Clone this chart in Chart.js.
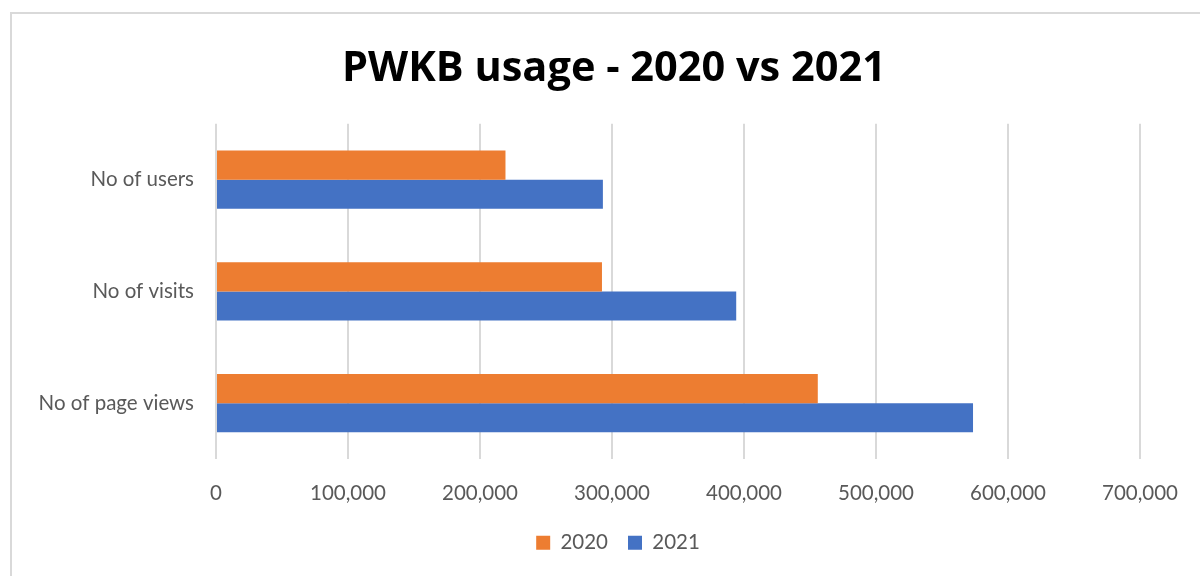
<!DOCTYPE html>
<html>
<head>
<meta charset="utf-8">
<script src="https://cdn.jsdelivr.net/npm/chart.js@4"></script>
<style>
  html, body { margin: 0; padding: 0; background: #fff; overflow: hidden; }
  #wrap { position: relative; width: 1200px; height: 576px; }
  #frame { position: absolute; left: 10px; top: 12px; width: 1220px; height: 600px;
           border: 2px solid #d9d9d9; pointer-events: none; }
</style>
</head>
<body>
<div id="wrap">
  <canvas id="chart" width="1200" height="576"></canvas>
  <div id="frame"></div>
</div>
<script>
// data
const categories = ['No of users', 'No of visits', 'No of page views'];
const usage2020 = [219300, 292400, 455900];
const usage2021 = [293100, 394100, 573500];

const labelFont = { family: 'Lato, "Open Sans", sans-serif', size: 20.5 };

// the original frame is centred a bit right of the canvas, nudge title + legend
const shiftBlocks = {
    id: 'shiftBlocks',
    afterLayout(chart) {
        chart.titleBlock.left += 11;
        chart.titleBlock.right += 11;
        chart.legend.left += 15;
        chart.legend.right += 15;
    }
};

const ctx = document.getElementById('chart').getContext('2d');
new Chart(ctx, {
    type: 'bar',
    data: {
        labels: categories,
        datasets: [
            { label: '2020', data: usage2020, backgroundColor: '#ED7D31', borderWidth: 0 },
            { label: '2021', data: usage2021, backgroundColor: '#4472C4', borderWidth: 0 }
        ]
    },
    options: {
        indexAxis: 'y',
        responsive: false,
        animation: false,
        categoryPercentage: 0.52,
        barPercentage: 1.0,
        layout: { padding: { left: 20, right: 14, top: 0, bottom: 13 } },
        plugins: {
            title: {
                display: true,
                text: 'PWKB usage - 2020 vs 2021',
                color: '#000',
                font: { family: '"Open Sans", sans-serif', size: 41.5, weight: 'bold' },
                padding: { top: 44, bottom: 30 }
            },
            legend: {
                position: 'bottom',
                labels: {
                    boxWidth: 14,
                    boxHeight: 14,
                    color: '#595959',
                    font: labelFont,
                    padding: 20
                }
            },
            tooltip: { enabled: false }
        },
        scales: {
            x: {
                min: 0,
                max: 700000,
                ticks: {
                    stepSize: 100000,
                    color: '#595959',
                    font: labelFont,
                    padding: 22,
                    callback: v => v.toLocaleString('en-US')
                },
                grid: { color: '#d9d9d9', lineWidth: 2, drawTicks: false },
                border: { display: false },
                afterFit: scale => { scale.height = 53.5; }
            },
            y: {
                ticks: { color: '#595959', font: labelFont, padding: 14 },
                grid: { display: false },
                border: { display: false },
                afterFit: scale => {
                    scale.width = 196;
                    scale.paddingTop = 0;
                    scale.paddingBottom = 0;
                }
            }
        }
    },
    plugins: [shiftBlocks]
});
</script>
</body>
</html>
